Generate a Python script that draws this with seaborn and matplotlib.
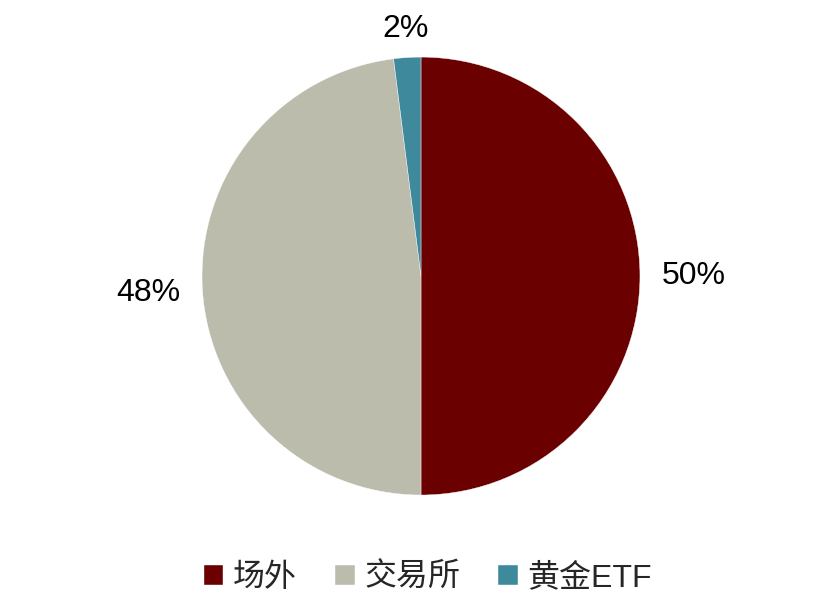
import numpy as np
import matplotlib
matplotlib.use('Agg')
import matplotlib.pyplot as plt
import seaborn as sns

# 数据
labels = ['场外', '交易所', '黄金ETF']
shares = [50, 48, 2]
colors = ['#6B0000', '#BCBCAC', '#3E8A9C']

sns.set_style('white')
plt.rcParams['font.family'] = ['Liberation Sans', 'Noto Sans CJK SC', 'DejaVu Sans']

fig = plt.figure(figsize=(8.31, 6.11), dpi=100)
ax = fig.add_axes([0.1772, 0.1002, 0.6588, 0.896])

wedges, texts, autotexts = ax.pie(
    shares, colors=colors, startangle=90, counterclock=False,
    autopct='%d%%', pctdistance=1.24, radius=1.0,
    wedgeprops=dict(edgecolor='white', linewidth=0.3),
    textprops=dict(fontsize=23, color='black'))

# 标签放在扇区外侧，按文字大小调整距离
for w, t in zip(wedges, autotexts):
    ang = np.deg2rad((w.theta1 + w.theta2) / 2)
    c, s = np.cos(ang), np.sin(ang)
    d = 1.08 + 0.165 * abs(c) + 0.04 * abs(s)
    t.set_position((d * c, d * s))
    t.set_ha('center')
    t.set_va('center')

ax.set_xlim(-1.25, 1.25)
ax.set_ylim(-1.25, 1.25)
ax.set_aspect('equal')
ax.axis('off')

fig.legend(wedges, labels, loc='center', bbox_to_anchor=(0.515, 0.054),
           ncol=3, frameon=False, fontsize=23, handlelength=0.6,
           handleheight=0.6, handletextpad=0.3, columnspacing=1.2)

fig.savefig('out.png', dpi=100)
